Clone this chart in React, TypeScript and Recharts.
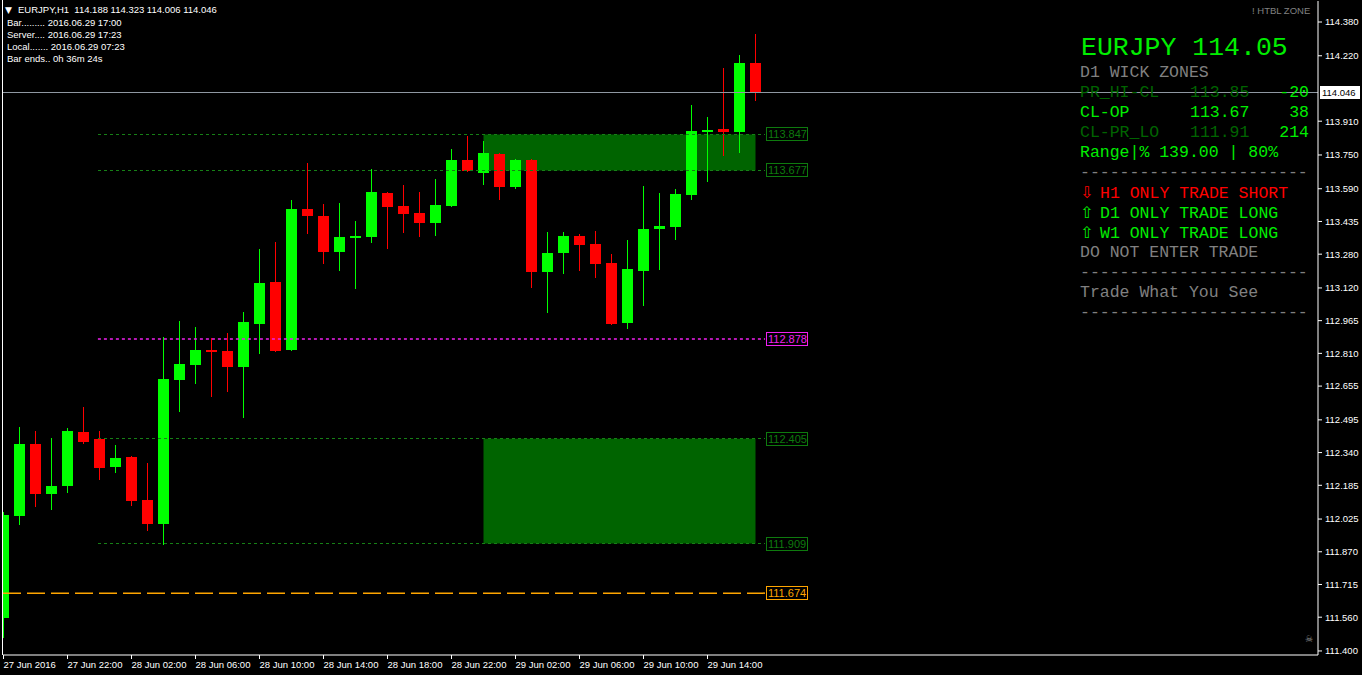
import React from "react";
import { ComposedChart, Bar, XAxis, YAxis, ReferenceLine, ReferenceArea } from "recharts";

// EURJPY H1, 27 Jun 18:00 .. 29 Jun 17:00 (48 bars)
const opens = [
  111.556, 112.039, 112.380, 112.144, 112.181, 112.437, 112.404, 112.272, 112.319, 112.115,
  112.001, 112.684, 112.755, 112.826, 112.821, 112.745, 112.949, 113.148, 112.826, 113.494,
  113.461, 113.290, 113.361, 113.361, 113.570, 113.508, 113.475, 113.427, 113.508, 113.726,
  113.665, 113.755, 113.598, 113.726, 113.195, 113.285, 113.366, 113.328, 113.238, 112.954,
  113.200, 113.397, 113.409, 113.560, 113.861, 113.873, 113.859, 114.188,
];
const highs = [
  112.058, 112.461, 112.442, 112.409, 112.456, 112.556, 112.442, 112.376, 112.324, 112.290,
  112.887, 112.963, 112.935, 112.883, 112.906, 113.006, 113.304, 113.338, 113.537, 113.712,
  113.518, 113.522, 113.437, 113.683, 113.574, 113.608, 113.574, 113.636, 113.778, 113.840,
  113.816, 113.759, 113.731, 113.731, 113.385, 113.385, 113.375, 113.390, 113.281, 113.347,
  113.603, 113.570, 113.589, 113.987, 113.930, 114.162, 114.224, 114.323,
];
const lows = [
  111.461, 111.997, 112.082, 112.068, 112.148, 112.380, 112.210, 112.243, 112.087, 111.968,
  111.902, 112.532, 112.665, 112.603, 112.627, 112.504, 112.807, 112.816, 112.821, 113.375,
  113.233, 113.200, 113.115, 113.333, 113.304, 113.380, 113.361, 113.366, 113.503, 113.669,
  113.608, 113.537, 113.589, 113.120, 113.001, 113.186, 113.200, 113.167, 112.944, 112.925,
  113.034, 113.205, 113.347, 113.537, 113.622, 113.745, 113.759, 114.006,
];
const closes = [
  112.044, 112.380, 112.144, 112.181, 112.442, 112.390, 112.267, 112.314, 112.110, 112.001,
  112.688, 112.759, 112.826, 112.816, 112.745, 112.958, 113.143, 112.821, 113.494, 113.461,
  113.290, 113.361, 113.366, 113.574, 113.503, 113.470, 113.427, 113.513, 113.726, 113.674,
  113.759, 113.598, 113.726, 113.195, 113.285, 113.366, 113.323, 113.233, 112.949, 113.210,
  113.399, 113.413, 113.565, 113.864, 113.868, 113.859, 114.186, 114.046,
];

const timeTicks = [0, 4, 8, 12, 16, 20, 24, 28, 32, 36, 40, 44];
const timeLabels = [
  "27 Jun 2016", "27 Jun 22:00", "28 Jun 02:00", "28 Jun 06:00", "28 Jun 10:00", "28 Jun 14:00",
  "28 Jun 18:00", "28 Jun 22:00", "29 Jun 02:00", "29 Jun 06:00", "29 Jun 10:00", "29 Jun 14:00",
];

const priceTicks = [
  114.38, 114.22, 113.91, 113.75, 113.59, 113.435, 113.28, 113.12, 112.965, 112.81,
  112.655, 112.495, 112.34, 112.185, 112.025, 111.87, 111.715, 111.56, 111.4,
];

const upperZone = [113.847, 113.677];
const lowerZone = [112.405, 111.909];
const zoneBars = [30, 47];
const midLevel = 112.878;
const pivotLevel = 111.674;
const bidPrice = 114.046;

const headerLines = [
  "EURJPY,H1  114.188 114.323 114.006 114.046",
  "Bar......... 2016.06.29 17:00",
  "Server.... 2016.06.29 17:23",
  "Local....... 2016.06.29 07:23",
  "Bar ends.. 0h 36m 24s",
];

const wickRows = [
  ["PR_HI-CL", "113.85", "-20"],
  ["CL-OP", "113.67", "38"],
  ["CL-PR_LO", "111.91", "214"],
];
const tradeRows = [
  ["⇩", "H1 ONLY TRADE SHORT"],
  ["⇧", "D1 ONLY TRADE LONG"],
  ["⇧", "W1 ONLY TRADE LONG"],
];

const data = opens.map((o, i) => ({ i, open: o, high: highs[i], low: lows[i], close: closes[i] }));

const GREEN = "#00ff00";
const RED = "#ff0000";
const TEXT_GREEN = "#00ee00";
const DARK = "#006400";
const GRAY = "#808080";
const LINE_GREEN = "#168016";
const MAGENTA = "#f020f0";
const ORANGE = "#ffa500";
const SANS = "'Liberation Sans', Arial, sans-serif";
const MONO = "'Liberation Mono', 'Courier New', monospace";

const X_MIN = -0.03125;
const X_MAX = 82.15625;
const LINE_START = 5.9;
const LINE_END = 47.6;

function Candle(props: any) {
  const { x, y, width, height, payload } = props;
  if (!payload) return null;
  const top = Math.min(y, y + height);
  const h = Math.abs(height);
  const { open, close, high, low } = payload;
  const color = close >= open ? GREEN : RED;
  const toY = (v: number) => top + ((high - v) / (high - low)) * h;
  const cx = Math.floor(x + width / 2) + 0.5;
  const bTop = Math.round(toY(Math.max(open, close)));
  const bBot = Math.round(toY(Math.min(open, close)));
  return (
    <g shapeRendering="crispEdges">
      <line x1={cx} x2={cx} y1={Math.round(top)} y2={Math.round(top + h)} stroke={color} strokeWidth={1} />
      <rect x={cx - 5.5} y={bTop} width={11} height={Math.max(bBot - bTop, 2)} fill={color} />
    </g>
  );
}

const levelTag = (text: string, color: string) => (props: any) => {
  const vb = props.viewBox || {};
  const x = Math.round(vb.x + vb.width + 1);
  const y = Math.round(vb.y);
  return (
    <g>
      <rect x={x + 0.5} y={y - 6.5} width={41} height={13} fill="#000" stroke={color} shapeRendering="crispEdges" />
      <text x={x + 2} y={y + 4} fill={color} fontSize={11} fontFamily={SANS}>
        {text}
      </text>
    </g>
  );
};

const bidTag = (props: any) => {
  const vb = props.viewBox || {};
  const x = vb.x + vb.width + 2;
  const y = Math.round(vb.y);
  return (
    <g>
      <rect x={x} y={y - 6} width={40} height={13} fill="#fff" />
      <text x={x + 2} y={y + 4} fill="#000" fontSize={9.5} fontFamily={SANS}>
        {bidPrice.toFixed(3)}
      </text>
    </g>
  );
};

function TimeTick(props: any) {
  const { x, y, payload } = props;
  const label = timeLabels[timeTicks.indexOf(payload.value)];
  return (
    <text x={x} y={y} dy="0.71em" fill="#fff" fontSize={9.5} fontFamily={SANS}>
      {label}
    </text>
  );
}

function Panel() {
  const row = (top: number, children: React.ReactNode) => (
    <div style={{ position: "absolute", left: 1080, top, height: 20, lineHeight: "20px", whiteSpace: "pre" }}>
      {children}
    </div>
  );
  const dashes = "-----------------------";
  return (
    <div style={{ fontFamily: MONO, fontSize: 16.5 }}>
      <div style={{ position: "absolute", left: 1081, top: 33, fontSize: 26.5, lineHeight: "30px", color: TEXT_GREEN, whiteSpace: "pre" }}>
        EURJPY 114.05
      </div>
      {row(63, <span style={{ color: GRAY }}>D1 WICK ZONES</span>)}
      {wickRows.map((r, k) => {
        const dim = k !== 1;
        return (
          <React.Fragment key={r[0]}>
            {row(
              83 + k * 20,
              <>
                <span style={{ display: "inline-block", width: 110, color: dim ? DARK : TEXT_GREEN }}>{r[0]}</span>
                <span style={{ display: "inline-block", width: 60, color: dim ? DARK : TEXT_GREEN }}>{r[1]}</span>
                <span style={{ display: "inline-block", width: 59, textAlign: "right", color: TEXT_GREEN }}>{r[2]}</span>
              </>
            )}
          </React.Fragment>
        );
      })}
      {row(143, <span style={{ color: TEXT_GREEN }}>Range|% 139.00 | 80%</span>)}
      {row(163, <span style={{ color: GRAY }}>{dashes}</span>)}
      {tradeRows.map((r, k) => (
        <React.Fragment key={r[1]}>
          {row(
            183 + k * 20,
            <span style={{ color: k === 0 ? RED : TEXT_GREEN }}>
              <span style={{ display: "inline-block", width: 20, fontFamily: "'DejaVu Sans'", fontSize: 16 }}>{r[0]}</span>
              {r[1]}
            </span>
          )}
        </React.Fragment>
      ))}
      {row(243, <span style={{ color: GRAY }}>DO NOT ENTER TRADE</span>)}
      {row(263, <span style={{ color: GRAY }}>{dashes}</span>)}
      {row(283, <span style={{ color: GRAY }}>Trade What You See</span>)}
      {row(303, <span style={{ color: GRAY }}>{dashes}</span>)}
    </div>
  );
}

function Header() {
  const tops = [4, 17, 29, 41, 53];
  return (
    <div style={{ fontFamily: SANS, fontSize: 9.5, color: "#fff", lineHeight: "12px" }}>
      <div style={{ position: "absolute", left: 5, top: tops[0], fontSize: 9, fontFamily: "'DejaVu Sans'" }}>▼</div>
      {headerLines.map((t, k) => (
        <div key={k} style={{ position: "absolute", left: k === 0 ? 18 : 7, top: tops[k], whiteSpace: "pre" }}>
          {t}
        </div>
      ))}
      <div style={{ position: "absolute", left: 1252, top: 5, color: GRAY, whiteSpace: "pre" }}>! HTBL ZONE</div>
      <div style={{ position: "absolute", left: 1305, top: 633, color: "#9a9a9a", fontSize: 9, fontFamily: "'DejaVu Sans'" }}>☠</div>
    </div>
  );
}

export default function App() {
  return (
    <div style={{ position: "fixed", left: 0, top: 0, width: 1362, height: 675, background: "#000", overflow: "hidden" }}>
      <ComposedChart
        width={1362}
        height={675}
        data={data}
        margin={{ top: 1, right: 0, bottom: 0, left: 3 }}
        style={{ background: "#000" }}
      >
        <XAxis
          dataKey="i"
          type="number"
          domain={[X_MIN, X_MAX]}
          allowDataOverflow
          ticks={timeTicks}
          interval={0}
          height={20}
          tick={TimeTick}
          tickSize={4}
          axisLine={{ stroke: "#fff" }}
          tickLine={{ stroke: "#fff" }}
        />
        <YAxis
          orientation="right"
          type="number"
          domain={[111.3809, 114.4795]}
          allowDataOverflow
          ticks={priceTicks}
          interval={0}
          width={44}
          tickSize={4}
          tickMargin={3}
          tickFormatter={(v: number) => v.toFixed(3)}
          tick={{ fill: "#fff", fontSize: 9.5, fontFamily: SANS }}
          axisLine={{ stroke: "#fff" }}
          tickLine={{ stroke: "#fff" }}
        />
        <ReferenceArea x1={zoneBars[0]} x2={zoneBars[1]} y1={upperZone[1]} y2={upperZone[0]} fill={DARK} fillOpacity={1} stroke="none" />
        <ReferenceArea x1={zoneBars[0]} x2={zoneBars[1]} y1={lowerZone[1]} y2={lowerZone[0]} fill={DARK} fillOpacity={1} stroke="none" />
        <ReferenceLine y={bidPrice} stroke="#8f98a2" shapeRendering="crispEdges" label={bidTag} />
        {[...upperZone, ...lowerZone].map((v) => (
          <ReferenceLine
            key={v}
            segment={[{ x: LINE_START, y: v }, { x: LINE_END, y: v }]}
            stroke={LINE_GREEN}
            strokeDasharray="3 3"
            shapeRendering="crispEdges"
            label={levelTag(v.toFixed(3), "#0e7a0e")}
          />
        ))}
        <ReferenceLine
          segment={[{ x: LINE_START, y: midLevel }, { x: LINE_END, y: midLevel }]}
          stroke={MAGENTA}
          strokeWidth={1.3}
          strokeDasharray="3 3"
          label={levelTag(midLevel.toFixed(3), MAGENTA)}
        />
        <ReferenceLine
          segment={[{ x: X_MIN, y: pivotLevel }, { x: LINE_END, y: pivotLevel }]}
          stroke={ORANGE}
          strokeWidth={1.5}
          strokeDasharray="18 6"
          label={levelTag(pivotLevel.toFixed(3), ORANGE)}
        />
        <Bar dataKey={(d: any) => [d.low, d.high]} barSize={11} shape={Candle} isAnimationActive={false} />
      </ComposedChart>
      <div style={{ position: "absolute", left: 2, top: 0, width: 1, height: 655, background: "#fff" }} />
      <Header />
      <Panel />
    </div>
  );
}
